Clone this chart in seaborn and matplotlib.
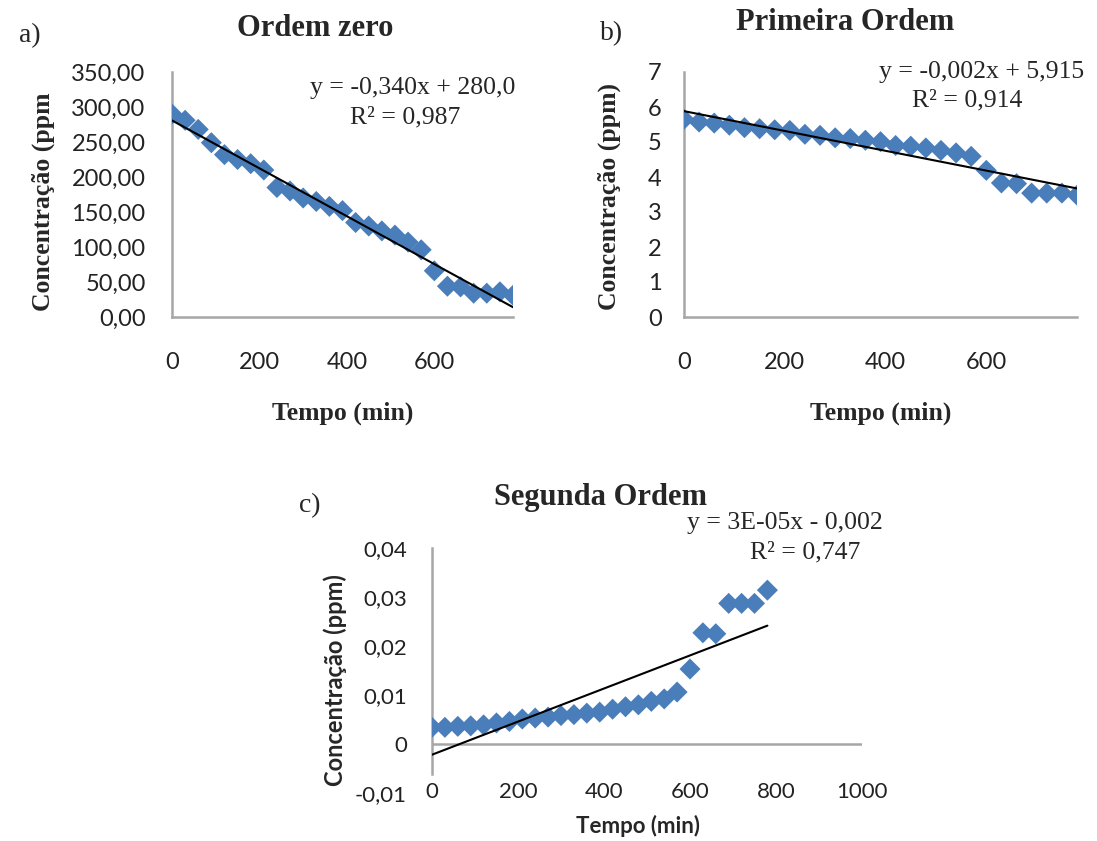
import numpy as np
import pandas as pd
import matplotlib
matplotlib.use("Agg")
import matplotlib.pyplot as plt
from matplotlib.ticker import FuncFormatter, FixedLocator
import seaborn as sns

# Sampling times (min)
tempo = [0, 30, 60, 90, 120, 150, 180, 210, 240, 270, 300, 330, 360, 390,
         420, 450, 480, 510, 540, 570, 600, 630, 660, 690, 720, 750, 780]

# Zero order: C (ppm)
conc_zero = [290, 281, 268, 249, 232, 225, 219, 210, 185, 180, 170, 165, 158, 152,
             135, 130, 123, 117, 107, 96, 66, 44, 43, 34, 34, 36, 31]

# First order: ln C
conc_primeira = [5.65, 5.57, 5.54, 5.48, 5.41, 5.38, 5.35, 5.33, 5.22, 5.19, 5.12, 5.10,
                 5.05, 5.01, 4.90, 4.88, 4.83, 4.76, 4.69, 4.59, 4.19, 3.83, 3.81,
                 3.54, 3.54, 3.54, 3.48]

# Second order: 1/C
conc_segunda = [0.0034, 0.0034, 0.0036, 0.0037, 0.0039, 0.0043, 0.0046, 0.0051, 0.0053,
                0.0055, 0.0058, 0.0060, 0.0063, 0.0065, 0.0071, 0.0076, 0.0080, 0.0087,
                0.0092, 0.0106, 0.0153, 0.0227, 0.0225, 0.0287, 0.0287, 0.0287, 0.0314]

eq_zero = ["y = -0,340x + 280,0", "R² = 0,987"]
eq_primeira = ["y = -0,002x + 5,915", "R² = 0,914"]
eq_segunda = ["y = 3E-05x - 0,002", "R² = 0,747"]

df = pd.DataFrame({"tempo": tempo, "zero": conc_zero,
                   "primeira": conc_primeira, "segunda": conc_segunda})

sns.set_style("white")
SANS = ["Lato", "DejaVu Sans"]
SERIF = ["Liberation Serif", "DejaVu Serif"]
plt.rcParams["font.family"] = SANS

W, H = 1097, 841
fig = plt.figure(figsize=(W / 100, H / 100), dpi=100)

BLUE = "#4A7EBB"
GRAY = "#A6A6A6"


def px_axes(left, top, right, bottom):
    return fig.add_axes([left / W, 1 - bottom / H, (right - left) / W, (bottom - top) / H])


def comma(decimals, zero_label=None):
    def f(v, pos):
        if zero_label is not None and abs(v) < 1e-12:
            return zero_label
        return f"{v:.{decimals}f}".replace(".", ",")
    return FuncFormatter(f)


def draw_panel(ax, col, tick_size):
    sns.scatterplot(data=df, x="tempo", y=col, ax=ax, marker="D", s=115,
                    color=BLUE, edgecolor="none", linewidth=0, zorder=3, legend=False)
    sns.regplot(data=df, x="tempo", y=col, ax=ax, scatter=False, ci=None,
                truncate=True, line_kws=dict(color="black", lw=1.5, zorder=4))
    for s in ["top", "right"]:
        ax.spines[s].set_visible(False)
    for s in ["left", "bottom"]:
        ax.spines[s].set_color(GRAY)
        ax.spines[s].set_linewidth(1.8)
    ax.tick_params(length=0, labelsize=tick_size, labelcolor="#222222")
    ax.set_xlabel("")
    ax.set_ylabel("")


# a) zero order
ax1 = px_axes(172, 72, 513, 317)
draw_panel(ax1, "zero", 17)
ax1.set_xlim(0, 780)
ax1.set_ylim(0, 350)
ax1.xaxis.set_major_locator(FixedLocator([0, 200, 400, 600]))
ax1.yaxis.set_major_locator(FixedLocator(np.arange(0, 351, 50)))
ax1.yaxis.set_major_formatter(comma(2))
ax1.tick_params(axis="x", pad=25)
ax1.tick_params(axis="y", pad=19)
ax1.set_xlabel("Tempo (min)", fontsize=18.5, fontweight="bold", family=SERIF)
ax1.set_ylabel("Concentração (ppm", fontsize=18.5, fontweight="bold", family=SERIF)
ax1.xaxis.set_label_coords(0.5, -0.345)
ax1.yaxis.set_label_coords(-0.343, 0.47)

# b) first order
ax2 = px_axes(684, 72, 1077, 317)
draw_panel(ax2, "primeira", 17)
ax2.set_xlim(0, 780)
ax2.set_ylim(0, 7)
ax2.xaxis.set_major_locator(FixedLocator([0, 200, 400, 600]))
ax2.yaxis.set_major_locator(FixedLocator(np.arange(0, 8, 1)))
ax2.yaxis.set_major_formatter(comma(0))
ax2.tick_params(axis="x", pad=25)
ax2.tick_params(axis="y", pad=16)
ax2.set_xlabel("Tempo (min)", fontsize=18.5, fontweight="bold", family=SERIF)
ax2.set_ylabel("Concentração (ppm)", fontsize=18.5, fontweight="bold", family=SERIF)
ax2.xaxis.set_label_coords(0.5, -0.345)
ax2.yaxis.set_label_coords(-0.161, 0.49)

# c) second order
ax3 = px_axes(432, 548, 862, 793)
draw_panel(ax3, "segunda", 16)
ax3.set_xlim(0, 1000)
ax3.set_ylim(-0.01, 0.04)
ax3.xaxis.set_major_locator(FixedLocator(np.arange(0, 1001, 200)))
ax3.yaxis.set_major_locator(FixedLocator([-0.01, 0, 0.01, 0.02, 0.03, 0.04]))
ax3.yaxis.set_major_formatter(comma(2, zero_label="0"))
ax3.spines["bottom"].set_visible(False)
ax3.spines["left"].set_bounds(-0.0062, 0.04)
ax3.axhline(0, color=GRAY, lw=1.8, zorder=1)
ax3.tick_params(axis="x", pad=-8)
ax3.tick_params(axis="y", pad=18)
ax3.set_xlabel("Tempo (min)", fontsize=16, fontweight="bold", family=SANS)
ax3.set_ylabel("Concentração (ppm)", fontsize=17, fontweight="bold", family=SANS)
ax3.xaxis.set_label_coords(0.48, -0.09)
ax3.yaxis.set_label_coords(-0.198, 0.46)


def ftext(x, y, s, **kw):
    fig.text(x / W, 1 - y / H, s, ha="center", va="center", family=SERIF, **kw)


# panel letters and titles
ftext(30, 36, "a)", fontsize=20)
ftext(612, 34, "b)", fontsize=20)
ftext(310, 506, "c)", fontsize=20)
ftext(315, 28, "Ordem zero", fontsize=22, fontweight="bold")
ftext(845, 23, "Primeira Ordem", fontsize=22, fontweight="bold")
ftext(600, 498, "Segunda Ordem", fontsize=22, fontweight="bold")

# trendline equations
ftext(413, 88, eq_zero[0], fontsize=18.5)
ftext(405, 117, eq_zero[1], fontsize=18.5)
ftext(982, 72, eq_primeira[0], fontsize=18.5)
ftext(967, 100, eq_primeira[1], fontsize=18.5)
ftext(785, 523, eq_segunda[0], fontsize=18.5)
ftext(805, 552, eq_segunda[1], fontsize=18.5)

fig.savefig("out.png", dpi=100)
